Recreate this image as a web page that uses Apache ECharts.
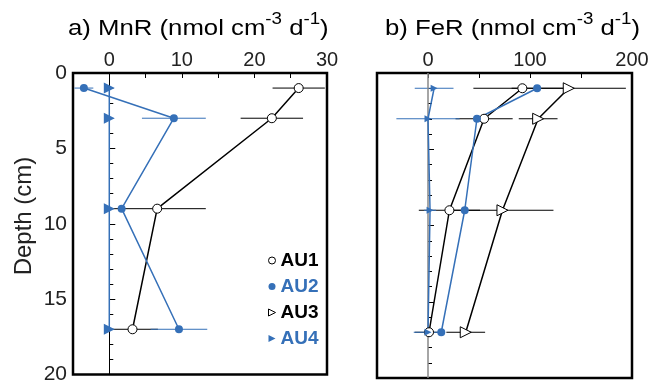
<!DOCTYPE html>
<html>
<head>
<meta charset="utf-8">
<script src="https://cdn.jsdelivr.net/npm/echarts@6.0.0/dist/echarts.min.js"></script>
<style>
  html, body { margin: 0; padding: 0; background: #fff; }
  #chart { width: 664px; height: 385px; }
</style>
</head>
<body>
<div id="chart"></div>
<script>
// depths of the four sampling levels (cm)
const depths = [1, 3, 9, 17];

// a) MnR, nmol cm-3 d-1
const mnrAU1 = [26.1, 22.4, 6.6, 3.2];
const mnrAU1Err = [3.6, 4.3, 6.7, 3.5];
const mnrAU2 = [-3.5, 8.9, 1.7, 9.6];
const mnrAU2Err = [1.3, 4.4, 0, 3.9];
const mnrAU4 = [0, 0, 0, 0];

// b) FeR, nmol cm-3 d-1
const ferAU1 = [92.5, 55, 21, 1];
const ferAU1Err = [48, 28, 30, 14];
const ferAU2 = [107, 48, 36, 13];
const ferAU3 = [138, 108, 73, 37];
const ferAU3Err = [56, 19, 50, 19];
const ferAU4 = [6, 0, 2, 0];
const ferAU4Err = [19, 31, 6, 14];

// axis ticks
const mnrTicks = [0, 10, 20, 30];
const ferTicks = [0, 100, 200];
const depthTicks = [0, 5, 10, 15, 20];

const BLUE = '#3570b8';
const FONT = 'Liberation Sans';

const triPath = 'path://M0,0 L10,5 L0,10 Z';

function pts(vals) {
    return vals.map((v, i) => [v, depths[i]]);
}

function lineSeries(name, vals, idx, sym) {
    return Object.assign({
        name: name,
        type: 'line',
        xAxisIndex: idx,
        yAxisIndex: idx,
        data: pts(vals),
        z: 5,
        animation: false
    }, sym);
}

const styleAU1 = {
    symbol: 'circle', symbolSize: 9,
    itemStyle: { color: '#fff', borderColor: '#000', borderWidth: 1 },
    lineStyle: { color: '#000', width: 1.5 }
};
const styleAU2 = {
    symbol: 'circle', symbolSize: 8,
    itemStyle: { color: BLUE, borderWidth: 0 },
    lineStyle: { color: BLUE, width: 1.5 }
};
const styleAU3 = {
    symbol: 'triangle', symbolSize: 11, symbolRotate: -90,
    itemStyle: { color: '#fff', borderColor: '#000', borderWidth: 1 },
    lineStyle: { color: '#000', width: 1.5 }
};
const styleAU4a = {
    symbol: 'triangle', symbolSize: 11, symbolRotate: -90,
    itemStyle: { color: BLUE, borderWidth: 0 },
    lineStyle: { color: BLUE, width: 1.5 }
};
const styleAU4b = {
    symbol: 'triangle', symbolSize: 7, symbolRotate: -90,
    itemStyle: { color: BLUE, borderWidth: 0 },
    lineStyle: { color: BLUE, width: 1.5 }
};

function errSeries(vals, errs, idx, color, z) {
    return {
        type: 'custom',
        xAxisIndex: idx,
        yAxisIndex: idx,
        z: z,
        clip: true,
        silent: true,
        animation: false,
        encode: { x: 0, y: 1 },
        data: vals.map((v, i) => [v, depths[i], errs[i]]),
        renderItem: function (params, api) {
            const x = api.value(0), y = api.value(1), e = api.value(2);
            if (!e) return null;
            const p1 = api.coord([x - e, y]);
            const p2 = api.coord([x + e, y]);
            return {
                type: 'line',
                shape: { x1: p1[0], y1: p1[1], x2: p2[0], y2: p2[1] },
                style: { stroke: color, lineWidth: 1 }
            };
        }
    };
}

function zeroLine(idx, color, width) {
    return {
        type: 'line',
        xAxisIndex: idx,
        yAxisIndex: idx,
        data: [],
        z: 1,
        silent: true,
        markLine: {
            silent: true,
            symbol: ['none', 'none'],
            label: { show: false },
            lineStyle: { color: color, width: width, type: 'solid' },
            data: [{ xAxis: 0 }],
            animation: false
        }
    };
}

function xAxis(idx, min, max, interval, labels) {
    return {
        type: 'value',
        gridIndex: idx,
        position: 'top',
        min: min, max: max, interval: interval,
        axisLine: { show: false },
        axisTick: { show: true, inside: true, length: 5, lineStyle: { color: '#000', width: 1 } },
        splitLine: { show: false },
        axisLabel: {
            margin: 3,
            fontFamily: FONT, fontSize: 20, color: '#222',
            formatter: v => labels.indexOf(v) >= 0 ? String(v) : ''
        }
    };
}

function yAxis(idx, showLabels) {
    return {
        type: 'value',
        gridIndex: idx,
        inverse: true,
        min: 0, max: 20, interval: 5,
        axisLine: { show: false },
        axisTick: { show: true, inside: true, length: 6, lineStyle: { color: '#000', width: 1 } },
        minorTick: { show: true, splitNumber: 5, length: 4, lineStyle: { color: '#000', width: 1 } },
        splitLine: { show: false },
        axisLabel: {
            show: showLabels,
            margin: 6,
            fontFamily: FONT, fontSize: 21, color: '#222',
            formatter: v => depthTicks.indexOf(v) >= 0 ? String(v) : ''
        }
    };
}

const titleRich = {
    t: { fontFamily: FONT, fontSize: 22, color: '#222', lineHeight: 28, verticalAlign: 'bottom' },
    s: { fontFamily: FONT, fontSize: 16, color: '#222', lineHeight: 28, verticalAlign: 'top' }
};

const option = {
    backgroundColor: '#fff',
    animation: false,
    grid: [
        { left: 73, top: 73, width: 254, height: 305, show: true, borderColor: '#000', borderWidth: 2.5, backgroundColor: 'transparent' },
        { left: 377, top: 73, width: 255, height: 305, show: true, borderColor: '#000', borderWidth: 2.5, backgroundColor: 'transparent' }
    ],
    xAxis: [xAxis(0, -5, 30, 5, mnrTicks), xAxis(1, -50, 200, 50, ferTicks)],
    yAxis: [yAxis(0, true), yAxis(1, false)],
    graphic: [
        {
            type: 'text', x: 68, y: 12, scaleX: 1.17,
            style: { text: '{t|a) MnR (nmol cm}{s|-3}{t| d}{s|-1}{t|)}', rich: titleRich }
        },
        {
            type: 'text', x: 385, y: 12, scaleX: 1.17,
            style: { text: '{t|b) FeR (nmol cm}{s|-3}{t| d}{s|-1}{t|)}', rich: titleRich }
        },
        {
            type: 'text', x: 24, y: 216, rotation: Math.PI / 2,
            style: {
                text: 'Depth (cm)', fontFamily: FONT, fontSize: 24, fill: '#222',
                align: 'center', verticalAlign: 'middle'
            }
        }
    ],
    legend: {
        orient: 'vertical',
        left: 263,
        top: 246,
        itemWidth: 7,
        itemHeight: 7,
        itemGap: 7,
        textStyle: { fontFamily: FONT, fontSize: 19, fontWeight: 'bold', lineHeight: 19 },
        data: [
            { name: 'AU1', icon: 'circle', itemStyle: { color: '#fff', borderColor: '#000', borderWidth: 1 }, textStyle: { color: '#000' } },
            { name: 'AU2', icon: 'circle', itemStyle: { color: BLUE, borderWidth: 0 }, textStyle: { color: BLUE } },
            { name: 'AU3', icon: triPath, itemStyle: { color: '#fff', borderColor: '#000', borderWidth: 1 }, textStyle: { color: '#000' } },
            { name: 'AU4', icon: triPath, itemStyle: { color: BLUE, borderWidth: 0 }, textStyle: { color: BLUE } }
        ]
    },
    series: [
        zeroLine(0, '#000', 1),
        zeroLine(1, '#888', 1.5),

        errSeries(mnrAU1, mnrAU1Err, 0, '#000', 2),
        errSeries(mnrAU2, mnrAU2Err, 0, BLUE, 3),
        lineSeries('AU1', mnrAU1, 0, styleAU1),
        lineSeries('AU2', mnrAU2, 0, styleAU2),
        lineSeries('AU4', mnrAU4, 0, styleAU4a),

        errSeries(ferAU1, ferAU1Err, 1, '#000', 2),
        errSeries(ferAU3, ferAU3Err, 1, '#000', 2),
        errSeries(ferAU4, ferAU4Err, 1, BLUE, 3),
        lineSeries('AU1', ferAU1, 1, styleAU1),
        lineSeries('AU2', ferAU2, 1, styleAU2),
        lineSeries('AU3', ferAU3, 1, styleAU3),
        lineSeries('AU4', ferAU4, 1, styleAU4b)
    ]
};

const myChart = echarts.init(document.getElementById('chart'), null, { renderer: 'canvas' });
myChart.setOption(option);
</script>
</body>
</html>
